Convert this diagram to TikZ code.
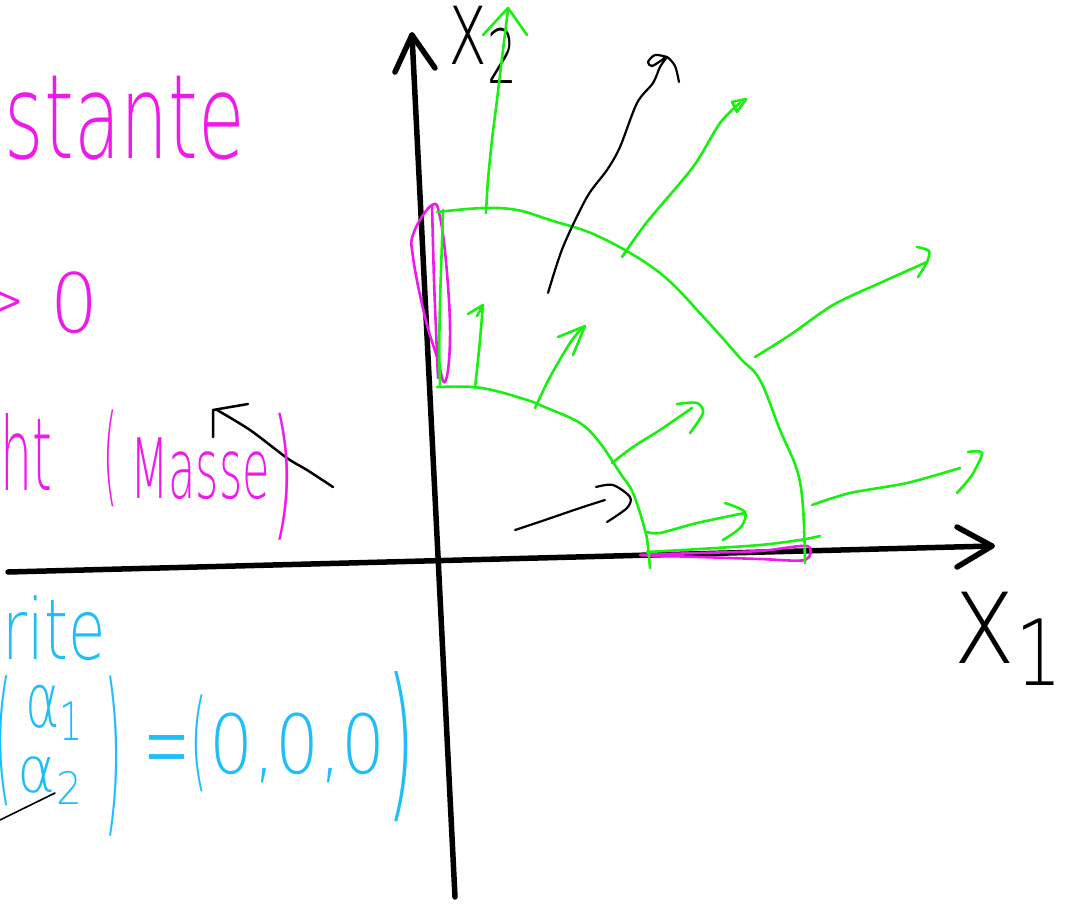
\documentclass[tikz,border=0pt]{standalone}
\usepackage{graphicx}
\usepackage{fontspec}
\newfontfamily\hand{DejaVuSans-ExtraLight.ttf}
\definecolor{hgreen}{RGB}{25,240,15}
\definecolor{hpink}{RGB}{240,25,235}
\definecolor{hblue}{RGB}{30,190,250}
\newcommand{\fitbox}[3]{\resizebox*{#1pt}{#2pt}{#3}}
\tikzset{
  axisline/.style={draw=black,line width=5.5pt,line cap=round,line join=round},
  green stroke/.style={draw=hgreen,line width=2.6pt,line cap=round,line join=round},
  black stroke/.style={draw=black,line width=2.2pt,line cap=round,line join=round},
  pink stroke/.style={draw=hpink,line width=2.6pt,line cap=round,line join=round},
  pinktext/.style={text=hpink,inner sep=0pt,outer sep=0pt,anchor=north west,font=\hand},
  bluetext/.style={text=hblue,inner sep=0pt,outer sep=0pt,anchor=north west,font=\hand},
  blacktext/.style={text=black,inner sep=0pt,outer sep=0pt,anchor=north west,font=\hand},
}
\begin{document}
\begin{tikzpicture}[x=1pt,y=-1pt]
\useasboundingbox (0,0) rectangle (1072,905);
% axes
\draw[axisline] (8,572) -- (992,546);
\draw[axisline] (957,527) -- (992,546) -- (957,567);
\draw[axisline] (455,897) -- (412,35);
\draw[axisline] (395,72) -- (412,35) -- (435,68);
% axis labels
\node[blacktext] (x2) at (448,6) {\fitbox{72}{77}{x\textsubscript{2}}};
\node[blacktext] (x1) at (953,592) {\fitbox{115}{93}{x\textsubscript{1}}};
% pink marks on axes
\draw[pink stroke] plot[smooth cycle,tension=0.7] coordinates {(432,205) (440,217) (447,273) (450,340) (445,382) (437,357) (425,317) (413,257) (414,232)};
\draw[pink stroke] plot[smooth,tension=0.6] coordinates {(432,205) (434,280) (436,330) (438,378)};
\draw[pink stroke] plot[smooth cycle,tension=0.5] coordinates {(640,555) (700,553) (760,551) (807,546) (805,560) (760,559) (700,557)};
% green arcs and segments
\draw[green stroke] plot[smooth,tension=0.6] coordinates {(437,212) (483,208) (517,210) (550,220) (600,237) (660,273) (708,322) (740,358) (760,380) (780,430) (797,470) (803,507) (805,563)};
\draw[green stroke] plot[smooth,tension=0.6] coordinates {(437,387) (473,387) (500,392) (533,402) (547,408) (580,423) (600,443) (620,473) (633,493) (645,530) (648,547) (650,568)};
\draw[green stroke] (443,210) .. controls (441,280) and (438,330) .. (440,385);
\draw[green stroke] plot[smooth] coordinates {(647,552) (700,549) (760,545) (800,540) (820,536)};
% green arrows outer
\draw[green stroke] plot[smooth] coordinates {(486,213) (488,180) (492,140) (497,100) (503,50) (508,10)};
\draw[green stroke] (483,35) -- (508,8) -- (527,35);
\draw[green stroke] plot[smooth] coordinates {(622,257) (647,222) (693,167) (720,123) (740,103)};
\draw[green stroke] (732,102) -- (746,99) -- (737,112) -- cycle;
\draw[green stroke] plot[smooth] coordinates {(755,357) (790,335) (833,305) (880,283) (927,262)};
\draw[green stroke] plot[smooth] coordinates {(917,247) (929,251) (927,262) (918,277)};
\draw[green stroke] plot[smooth] coordinates {(812,505) (850,493) (907,483) (960,468)};
\draw[green stroke] plot[smooth] coordinates {(968,452) (982,453) (972,475) (957,493)};
% green arrows inner
\draw[green stroke] plot[smooth] coordinates {(475,388) (478,360) (480,340) (483,305)};
\draw[green stroke] (468,314) -- (483,305) -- (477,316);
\draw[green stroke] plot[smooth] coordinates {(535,408) (550,377) (570,343) (583,327)};
\draw[green stroke] (558,337) -- (585,326) -- (573,355);
\draw[green stroke] plot[smooth] coordinates {(612,463) (633,447) (660,430) (692,408)};
\draw[green stroke] plot[smooth] coordinates {(677,404) (697,403) (703,413) (690,433)};
\draw[green stroke] plot[smooth] coordinates {(647,532) (660,533) (697,523) (745,513)};
\draw[green stroke] plot[smooth] coordinates {(725,503) (745,512) (741,527) (723,540)};
% black arrows
\draw[black stroke] plot[smooth] coordinates {(548,293) (563,247) (587,197) (607,170) (620,147) (637,103) (653,83) (660,67) (667,57)};
\draw[black stroke] plot[smooth] coordinates {(667,57) (655,55) (648,62) (652,66) (662,60) (667,57) (675,66) (679,82)};
\draw[black stroke] plot[smooth] coordinates {(515,530) (545,520) (580,508) (605,500)};
\draw[black stroke] plot[smooth] coordinates {(596,487) (613,485) (630,497) (627,508) (607,522)};
\draw[black stroke,line width=2.5pt] plot[smooth] coordinates {(333,487) (307,470) (287,458) (250,430) (217,410)};
\draw[black stroke,line width=2.5pt] (213,437) -- (213,410) -- (248,404);
\draw[black stroke,line width=1.6pt] (0,820) -- (55,793);
% pink text
\node[pinktext] (t1) at (5,76) {\fitbox{240}{84}{stante}};
\node[pinktext,anchor=north east] (t2) at (26,283) {\fitbox{52}{42}{>}};
\node[pinktext] (t3) at (50,272) {\fitbox{48}{62}{0}};
\node[pinktext] (t4) at (0,413) {\fitbox{52}{77}{ht}};
\node[pinktext] (t5) at (103,410) {\fitbox{14}{97}{(}};
\node[pinktext] (t6) at (130,438) {\fitbox{140}{62}{Masse}};
\node[pinktext] (t7) at (272,413) {\fitbox{22}{127}{)}};
% blue text
\node[bluetext] (b1) at (3,596) {\fitbox{103}{65}{rite}};
\node[bluetext] (b2) at (-6,676) {\fitbox{18}{130}{(}};
\node[bluetext] (b3) at (25,685) {\fitbox{60}{55}{α\textsubscript{1}}};
\node[bluetext] (b4) at (18,757) {\fitbox{67}{47}{α\textsubscript{2}}};
\node[bluetext] (b5) at (104,676) {\fitbox{18}{160}{)}};
\node[bluetext] (b6) at (143,735) {\fitbox{47}{50}{=}};
\node[bluetext] (b7) at (190,695) {\fitbox{17}{97}{(}};
\node[bluetext] (b8) at (209,713) {\fitbox{176}{70}{0,0,0}};
\node[bluetext] (b9) at (386,672) {\fitbox{29}{150}{)}};
\end{tikzpicture}
\end{document}
